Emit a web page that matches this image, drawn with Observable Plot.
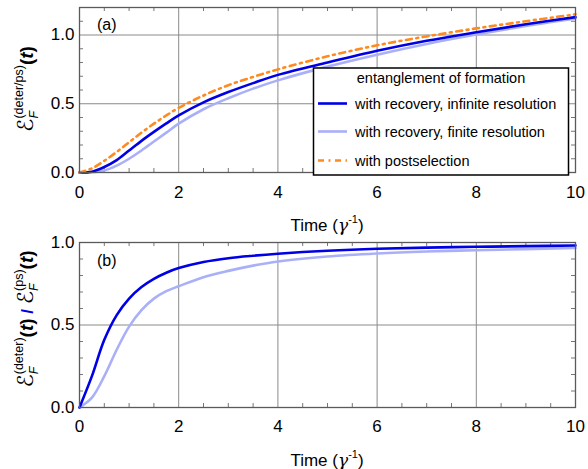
<!DOCTYPE html>
<html><head><meta charset="utf-8">
<script src="https://cdn.jsdelivr.net/npm/d3@7"></script>
<script src="https://cdn.jsdelivr.net/npm/@observablehq/plot@0.6"></script>
<style>
body{margin:0;background:#fff;}
#chart{position:relative;width:588px;height:469px;font-family:"Liberation Sans",Arial,sans-serif;}
#chart svg{display:block;}
</style>
</head><body><div id="chart"></div>
<script>
// ---- data ----
const time = [0,0.25,0.5,0.75,1,1.25,1.5,1.75,2,2.5,3,3.5,4,5,6,7,8,9,10];
const eofInfinite = [0,0.006,0.04,0.09,0.16,0.23,0.295,0.357,0.415,0.51,0.585,0.65,0.71,0.80,0.885,0.958,1.02,1.078,1.13];
const eofFinite   = [0,0.002,0.015,0.05,0.10,0.16,0.225,0.29,0.355,0.46,0.54,0.61,0.67,0.77,0.857,0.935,1.003,1.065,1.12];
const eofPostsel  = [0,0.03,0.085,0.15,0.22,0.29,0.355,0.415,0.47,0.56,0.635,0.695,0.75,0.845,0.925,0.99,1.048,1.10,1.15];
const ratioInfinite = [0,0.19,0.41,0.56,0.66,0.73,0.78,0.817,0.845,0.882,0.905,0.92,0.932,0.95,0.962,0.969,0.974,0.978,0.982];
const ratioFinite   = [0,0.06,0.19,0.35,0.49,0.59,0.66,0.705,0.735,0.79,0.828,0.86,0.885,0.915,0.933,0.945,0.953,0.96,0.967];
const xTicks = [0,2,4,6,8,10];
const yTicksA = [0,0.5,1.0];
const yTicksB = [0,0.5,1.0];
const legendTitle = "entanglement of formation";
const seriesNames = ["with recovery, infinite resolution","with recovery, finite resolution","with postselection"];
const panelNames = ["(a)","(b)"];
const xLabel = ["Time (", "γ", "-1", ")"];

// ---- styles ----
const C_INF = "#0000e6", C_FIN = "#aab0f8", C_PS = "#ff8a1e";
const DASH_PS = "6,4.5,2,4.5";
const FONT = "Liberation Sans, Arial, sans-serif";
const W = 588, ML = 79, MR = 13, FH = 165;
const FW = W - ML - MR;

function range(a, b, s){ const r=[]; for(let v=a; v<=b+1e-9; v+=s) r.push(+v.toFixed(3)); return r; }
const xMinor = range(0,10,0.5).filter(v => v % 2 !== 0);
function yMinorOf(max){ return range(0,max,0.1).filter(v => Math.abs(v*2 - Math.round(v*2)) > 1e-6); }

function panel({yMax, yGrid, yTicks, height, marginTop, series, tickPad}) {
  const marginBottom = height - marginTop - FH;
  const yMinor = yMinorOf(yMax);
  return Plot.plot({
    width: W, height, marginTop, marginBottom, marginLeft: ML, marginRight: MR,
    x: {domain: [0, 10]}, y: {domain: [0, yMax]},
    style: {fontFamily: FONT, fontSize: "17px", color: "#000", background: "#fff", overflow: "visible"},
    marks: [
      Plot.ruleX(xTicks.filter(v => v > 0 && v < 10), {stroke: "#8a8a8a", strokeWidth: 1}),
      Plot.ruleY(yGrid, {stroke: "#8a8a8a", strokeWidth: 1}),
      Plot.ruleX(xMinor, {insetTop: FH - 4, stroke: "#777"}),
      Plot.ruleX(xMinor, {insetBottom: FH - 4, stroke: "#777"}),
      Plot.ruleY(yMinor, {insetRight: FW - 4, stroke: "#777"}),
      Plot.ruleY(yMinor, {insetLeft: FW - 4, stroke: "#777"}),
      ...series.map(s => Plot.line(time, {x: time, y: s.values, stroke: s.color, strokeWidth: 2.6,
        strokeDasharray: s.dash, curve: "catmull-rom"})),
      Plot.frame({stroke: "#5a5a5a", strokeWidth: 1.3}),
      Plot.axisX({ticks: xTicks, tickSize: 0, tickPadding: tickPad, label: null, fontSize: 17, tickFormat: d => String(d)}),
      Plot.axisY({ticks: yTicks, tickSize: 0, tickPadding: 5, label: null, fontSize: 17, tickFormat: d3.format(".1f")})
    ]
  });
}

// rich text helper: parts are segments or {stack:[segs]}
function richLabel(svg, x, y, rotate, parts) {
  const g = svg.append("g").attr("transform", `translate(${x},${y}) rotate(${rotate})`);
  const inner = g.append("g");
  let cursor = 0;
  function put(seg, at) {
    const t = inner.append("text").attr("x", at).attr("y", seg.shift || 0)
      .attr("text-anchor", "start")
      .attr("font-size", seg.size || 17).attr("fill", seg.fill || "#000")
      .attr("font-family", seg.family || FONT)
      .attr("font-style", seg.italic ? "italic" : null)
      .attr("font-weight", seg.bold ? "bold" : null)
      .style("white-space", "pre")
      .text(seg.t);
    return t.node().getComputedTextLength();
  }
  for (const p of parts) {
    if (p.stack) {
      let w = 0;
      for (const s of p.stack) w = Math.max(w, put(s, cursor));
      cursor += w;
    } else {
      cursor += put(p, cursor) + (p.after || 0);
    }
  }
  inner.attr("transform", `translate(${-cursor/2},0)`);
}

const root = d3.select("#chart");

// ---- panel (a) ----
const svgA = panel({yMax: 1.2, yGrid: [0.5, 1.0], yTicks: yTicksA, height: 236, marginTop: 7, tickPad: 13, series: [
  {values: eofFinite, color: C_FIN},
  {values: eofInfinite, color: C_INF},
  {values: eofPostsel, color: C_PS, dash: DASH_PS}
]});
root.node().appendChild(svgA);
const sA = d3.select(svgA);

// ---- panel (b) ----
const svgB = panel({yMax: 1.0, yGrid: [0.5], yTicks: yTicksB, height: 233, marginTop: 6, tickPad: 12, series: [
  {values: ratioFinite, color: C_FIN},
  {values: ratioInfinite, color: C_INF}
]});
root.node().appendChild(svgB);
const sB = d3.select(svgB);

// panel letters
[sA, sB].forEach((s, i) => s.append("text").attr("x", 97).attr("y", 30)
  .attr("text-anchor", "start").attr("font-size", 16).attr("font-family", FONT).text(panelNames[i]));

// x labels
const xl = [
  {t: xLabel[0], size: 17},
  {t: xLabel[1], size: 17, italic: true, family: "DejaVu Serif, serif"},
  {t: xLabel[2], size: 11, shift: -8},
  {t: xLabel[3], size: 17}
];
richLabel(sA, ML + FW/2, 231, 0, xl);
richLabel(sB, ML + FW/2, 230, 0, xl);

// y labels
const E = (sup) => [
  {t: "ℰ", size: 22, family: "DejaVu Sans, sans-serif"},
  {stack: [{t: sup, size: 12.5, shift: -10}, {t: "F", size: 12.5, shift: 5, italic: true}]},
  {t: "(", size: 19, bold: true}, {t: "t", size: 19, italic: true, bold: true}, {t: ")", size: 19, bold: true}
];
richLabel(sA, 33, 89, -90, E("(deter/ps)"));
richLabel(sB, 33, 83, -90, [...E("(deter)"), {t: " / ", size: 17, fill: C_INF, bold: true}, ...E("(ps)")]);

// legend
const lg = sA.append("g");
lg.append("rect").attr("x", 313.5).attr("y", 68).attr("width", 255).attr("height", 107)
  .attr("fill", "#fff").attr("stroke", "#000").attr("stroke-width", 1.5);
lg.append("text").attr("x", 441).attr("y", 83).attr("text-anchor", "middle")
  .attr("font-size", 14.5).attr("font-family", FONT).text(legendTitle);
const legRows = [
  {color: C_INF, dash: null, y: 103.5},
  {color: C_FIN, dash: null, y: 131.5},
  {color: C_PS, dash: DASH_PS, y: 160.5}
];
legRows.forEach((r, i) => {
  lg.append("line").attr("x1", 318).attr("x2", 347).attr("y1", r.y).attr("y2", r.y)
    .attr("stroke", r.color).attr("stroke-width", 2.6).attr("stroke-dasharray", r.dash);
  lg.append("text").attr("x", 355).attr("y", r.y + 5.5).attr("text-anchor", "start").attr("font-size", 14.5)
    .attr("font-family", FONT).text(seriesNames[i]);
});
</script>
</body></html>
